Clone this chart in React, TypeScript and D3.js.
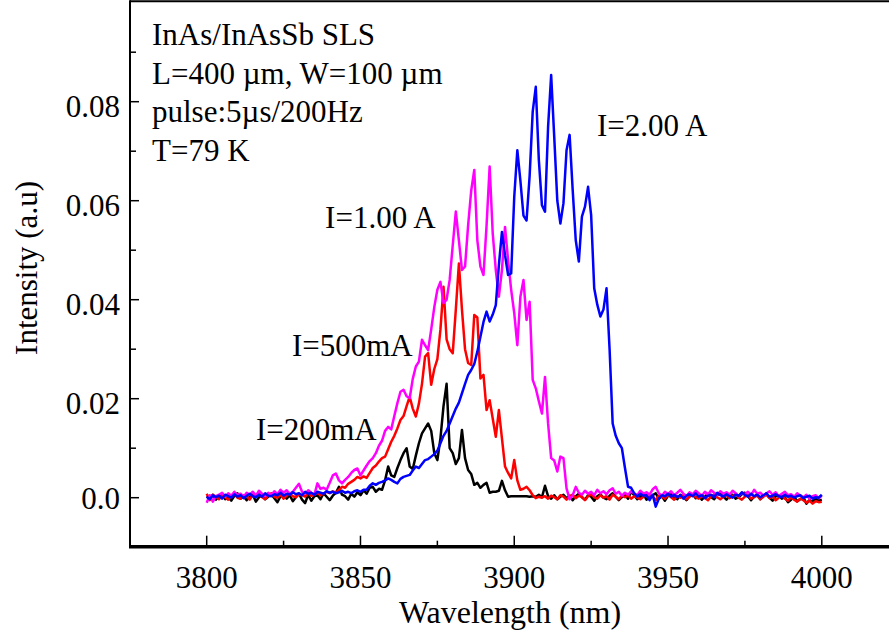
import React from "react";
import * as d3 from "d3";

// wavelength grid (nm), one sample per nm
const wavelengths: number[] = d3.range(3800, 4001, 1);

// intensities in units of 1e-3 a.u.
const i200mA: number[] = [
  0.3, -0.2, 0.6, -0.4, 0.2, 0.8, -0.3, 0.1, -0.6, 0.4,
  0.9, -0.2, 0.3, -0.5, 0.2, 0.6, -0.8, 0.1, 0.5, -0.3,
  0.2, 0.7, -0.1, -0.9, 0.3, 0.4, -0.2, 0.5, -0.7, 0.1,
  0.8, -0.4, -1.1, 0.6, -0.6, 0.3, 0.5, -0.3, 0.9, 0.2,
  -0.5, 0.4, 1.0, 2.2, 0.6, 0.3, -0.4, 0.8, 0.2, 1.1,
  0.5, 1.5, 0.8, 2.0, 2.2, 1.2, 1.8, 1.6, 3.5, 6.3,
  4.5, 4.2, 6.0, 7.6, 9.0, 10.0, 6.3, 5.8, 8.5, 11.0,
  13.0, 14.0, 15.0, 13.5, 9.0, 7.6, 12.0, 18.5, 23.0, 10.0,
  9.0, 6.8, 8.0, 13.7, 8.0, 5.6, 4.8, 2.6, 3.0, 2.0,
  2.6, 3.0, 1.0, 1.2, 1.2, 1.4, 3.4, 1.5, 0.2, 0.3,
  0.3, 0.3, 0.3, 0.3, 0.3, 0.2, 0.3, 0.2, 0.6, 0.1,
  2.4, 0.3, -0.2, 0.5, -0.3, 0.2, 0.6, -0.1, 0.4, -0.5,
  0.3, 0.8, 0.1, -0.4, 0.5, 0.2, -0.6, 0.3, 0.7, 0.0,
  -0.3, 0.4, 0.9, 0.2, -0.5, 0.1, 0.6, -0.2, 1.2, 0.5,
  -0.3, 0.2, 0.7, -0.4, 0.1, 0.5, 0.9, -0.2, 0.3, -0.6,
  0.4, 0.8, 0.0, -0.3, 0.6, 0.2, -0.5, 0.3, 0.7, -0.1,
  0.4, -0.4, 0.2, 0.8, 0.1, -0.3, 0.5, 0.9, 0.2, -0.4,
  0.3, 0.6, -0.2, 0.1, 0.7, 1.0, 0.3, -0.5, 0.2, 0.6,
  -0.3, 0.4, 0.8, 0.0, -0.6, 0.3, 0.5, -0.2, 0.1, -0.9,
  -0.4, 0.2, -0.7, -0.3, 0.1, -1.2, -0.5, -0.8, -0.2, -0.6,
  -0.4,
];

const i500mA: number[] = [
  0.8, -0.5, 0.6, 0.2, -0.3, 0.5, 0.1, -0.4, 0.3, 0.7,
  0.0, -0.2, 0.5, 0.3, -0.4, 0.6, 0.2, 0.8, 0.1, -0.3,
  0.4, 0.9, 0.2, 0.0, 0.6, -0.2, 0.4, 0.8, 0.3, 0.1,
  0.7, 0.5, 0.2, 0.9, 0.4, 0.6, 1.0, 0.5, 0.8, 1.2,
  0.9, 1.3, 1.0, 1.6, 2.2, 2.0, 2.8, 3.2, 3.6, 4.2,
  3.9, 4.3, 4.0, 5.0, 6.0, 6.5, 7.3, 8.0, 8.3, 9.8,
  11.3, 12.5, 14.0, 15.7, 16.5, 18.5, 20.4, 18.0, 16.4, 19.0,
  23.0, 28.5, 29.2, 22.8, 26.0, 28.0, 34.0, 42.6, 32.0, 30.0,
  29.2, 38.0, 47.3, 38.0, 30.0, 27.2, 26.8, 36.9, 36.4, 24.1,
  24.8, 17.7, 19.7, 16.0, 12.3, 17.7, 12.0, 6.3, 5.0, 3.9,
  7.6, 3.5, 1.6, 1.8, 2.2, 1.5, 0.5, -0.1, 0.2, 0.0,
  0.3, -0.2, 0.4, 0.1, -0.3, 0.5, 0.2, -0.4, 0.3, 0.6,
  -0.1, 0.4, 0.2, -0.5, 0.3, 0.7, 0.1, -0.2, 0.5, 0.0,
  0.3, -0.4, 0.6, 0.2, -0.3, 0.4, 0.1, 0.5, -0.2, 0.3,
  0.0, -0.3, 0.2, 0.5, -0.1, 0.3, -0.5, 0.4, 0.2, -0.2,
  0.6, 0.1, -0.4, 0.3, 0.0, 0.5, -0.3, 0.2, 0.7, 0.1,
  -0.2, 0.4, 0.0, -0.5, 0.3, 0.6, 0.1, -0.3, 0.2, 0.5,
  -0.1, 0.3, 0.8, 0.0, -0.4, 0.2, 0.5, -0.2, 0.1, 0.4,
  -0.3, 0.2, 0.6, -0.1, 0.3, -0.5, 0.0, 0.4, -0.2, -0.6,
  0.1, -0.4, -0.8, -0.2, -0.5, -1.0, -0.6, -1.2, -0.7, -0.9,
  -0.8,
];

const i1A: number[] = [
  -1.0, 0.5, -0.8, 0.3, 0.6, 1.0, 0.2, 0.9, 0.4, 1.2,
  0.5, 0.8, 0.2, 1.0, 0.6, 1.2, 0.4, 1.4, 0.8, 0.3,
  1.0, 0.5, 1.3, 0.7, 1.6, 1.0, 1.5, 0.8, 1.2, 2.0,
  2.8, 1.2, 0.8, 1.5, 1.0, 0.6, 2.9, 1.8, 2.0, 1.6,
  3.0, 4.5, 4.9, 3.5, 2.9, 3.6, 4.2, 5.0, 5.6, 5.9,
  4.5, 5.5, 6.5, 7.4, 8.0, 9.0, 10.5, 11.5, 13.5, 14.3,
  13.8, 16.5, 19.1, 21.4, 21.8, 20.5, 20.1, 24.0, 26.5, 27.5,
  31.9, 30.8, 29.8, 34.0, 38.5, 42.0, 43.6, 39.3, 40.0, 44.0,
  51.0, 57.8, 52.0, 46.0, 46.7, 55.0, 62.0, 66.2, 52.0, 46.7,
  45.0, 55.0, 66.9, 53.4, 46.0, 40.6, 46.0, 54.7, 48.0, 42.0,
  37.3, 30.8, 40.6, 44.0, 35.9, 39.6, 23.8, 22.1, 19.5, 17.0,
  24.4, 15.0, 8.0, 7.5, 5.3, 8.3, 8.0, 1.9, -0.3, 0.5,
  2.2, 1.0, 0.6, 1.4, 0.8, 1.2, 0.5, 1.6, 0.9, 1.3,
  0.7, 1.5, 1.9, 0.8, 1.2, 0.4, 1.0, 0.6, 1.3, 0.9,
  0.5, 1.4, 0.8, 1.1, 0.6, 1.7, 2.2, 0.9, 0.4, 1.2,
  0.7, 1.3, 0.5, 1.0, 1.6, 0.8, 0.3, 1.1, 0.7, 1.4,
  0.9, 0.4, 1.2, 0.6, 1.5, 1.0, 0.5, 1.3, 0.8, 1.1,
  0.6, 1.4, 0.9, 0.3, 1.0, 0.7, 1.2, 0.5, 1.6, 0.8,
  1.0, 0.4, 0.9, 1.3, 0.6, 1.1, 0.3, 0.8, 1.2, 0.5,
  0.7, 0.2, 0.9, 0.4, 0.1, 0.6, -0.2, 0.3, 0.5, -0.1,
  0.4,
];

const i2A: number[] = [
  0.2, -0.3, 0.5, 0.1, 0.4, -0.2, 0.6, 0.3, 0.0, 0.7,
  0.2, 0.5, -0.1, 0.4, 0.8, 0.3, 0.1, 0.6, 0.2, 0.9,
  0.4, 0.3, 0.7, 0.5, 1.0, 0.4, 0.8, 0.6, 1.1, 0.7,
  0.9, 0.5, 1.2, 0.8, 1.0, 0.6, 1.2, 1.0, 0.8, 1.3,
  1.0, 1.2, 0.9, 1.1, 1.4, 1.0, 1.2, 0.9, 1.3, 1.5,
  1.2, 1.6, 1.6, 2.4, 2.9, 2.6, 3.0, 3.2, 3.5, 3.9,
  3.6, 3.2, 2.9, 3.8, 4.2, 4.4, 4.6, 5.5, 6.3, 6.0,
  6.8, 7.6, 7.8, 8.3, 8.8, 9.5, 11.0, 12.5, 13.5, 15.0,
  16.5, 18.0, 19.2, 21.1, 23.0, 24.8, 25.8, 27.0, 29.5, 32.5,
  35.5, 37.6, 35.6, 37.0, 38.9, 47.0, 53.7, 49.0, 45.0, 45.3,
  60.8, 70.2, 64.0, 57.0, 56.0, 65.0, 78.0, 83.0, 68.2, 59.1,
  57.8, 74.9, 85.4, 72.9, 60.0, 55.4, 59.5, 70.2, 73.3, 62.2,
  52.0, 47.7, 56.8, 58.8, 62.8, 57.1, 42.3, 39.0, 36.6, 38.0,
  42.3, 30.0, 15.0, 12.5, 11.0, 10.0, 6.0, 2.2, 2.0, 0.9,
  0.2, 0.8, 0.4, 0.5, -0.5, 0.6, -1.8, -0.2, 0.5, 0.3,
  0.8, 0.2, 0.6, 0.1, 0.5, -0.2, 0.4, 0.7, 0.3, 0.9,
  0.2, 0.5, -0.1, 0.4, 0.6, 0.1, 1.0, 0.5, 0.2, 0.7,
  0.3, 0.0, 0.6, 0.4, 1.1, 0.5, 0.2, 0.8, 0.3, 0.6,
  0.1, 0.5, 0.9, 0.2, 0.4, 0.7, 0.3, 0.1, 0.6, 0.2,
  0.4, 0.0, 0.3, 0.5, -0.1, 0.2, 0.4, -0.2, 0.1, 0.0,
  0.6,
];

const seriesValues = [i200mA, i500mA, i1A, i2A];
const seriesColors = ["#000000", "#ff0000", "#ff00ff", "#0000ff"];
const seriesLabels = ["I=200mA", "I=500mA", "I=1.00 A", "I=2.00 A"];
// label anchor points (wavelength nm, intensity 1e-3 a.u.)
const labelWavelengths = [3816.0, 3827.7, 3838.5, 3926.9];
const labelIntensities = [11.7, 28.6, 54.5, 73.1];

const yMajorTicks = [0, 20, 40, 60, 80];
const yTickLabels = ["0.0", "0.02", "0.04", "0.06", "0.08"];
const yMinorTicks = [10, 30, 50, 70, 90];
const xMajorTicks = [3800, 3850, 3900, 3950, 4000];
const xTickLabels = ["3800", "3850", "3900", "3950", "4000"];
const xMinorTicks = [3825, 3875, 3925, 3975];

const infoLines = [
  "InAs/InAsSb SLS",
  "L=400 \u00b5m, W=100 \u00b5m",
  "pulse:5\u00b5s/200Hz",
  "T=79 K",
];

const W = 889;
const H = 638;
const FONT = "'Liberation Serif', 'Times New Roman', serif";

export default function App() {
  const x = d3.scaleLinear().domain([3800, 4000]).range([206.7, 821.8]);
  const y = d3.scaleLinear().domain([0, 80]).range([497.7, 101.7]);
  const left = 130;
  const top = y(100.3);
  const bottom = y(-9.9);
  const right = W;

  const line = d3
    .line<number>()
    .x((_, i) => x(wavelengths[i]))
    .y((d) => y(d));

  return (
    <div>
      <style>{`body{margin:0;background:#fff}`}</style>
      <svg width={W} height={H} style={{ display: "block", fontFamily: FONT }}>
        <rect width={W} height={H} fill="#fff" />
        {/* series */}
        {seriesValues.map((vals, k) => (
          <path
            key={k}
            d={line(vals) || ""}
            fill="none"
            stroke={seriesColors[k]}
            strokeWidth={2.5}
            strokeLinejoin="round"
          />
        ))}
        {/* frame */}
        <line x1={left} x2={right} y1={top} y2={top} stroke="#000" strokeWidth={2} />
        <line x1={left} x2={left} y1={top - 1} y2={bottom} stroke="#000" strokeWidth={2} />
        <line x1={left - 1} x2={right} y1={bottom} y2={bottom} stroke="#000" strokeWidth={3.5} />
        {/* y ticks */}
        {yMajorTicks.map((v) => (
          <line key={"ym" + v} x1={left} x2={left + 9} y1={y(v)} y2={y(v)} stroke="#000" strokeWidth={1.5} />
        ))}
        {yMinorTicks.map((v) => (
          <line key={"yn" + v} x1={left} x2={left + 6} y1={y(v)} y2={y(v)} stroke="#000" strokeWidth={1.5} />
        ))}
        {yMajorTicks.map((v, i) => (
          <text
            key={"yl" + v}
            x={left - 10}
            y={y(v) + (v === 0 ? 1 : 5)}
            textAnchor="end"
            dominantBaseline="central"
            fontSize={31}
          >
            {yTickLabels[i]}
          </text>
        ))}
        {/* x ticks */}
        {xMajorTicks.map((v) => (
          <line key={"xm" + v} x1={x(v)} x2={x(v)} y1={bottom} y2={bottom - 11} stroke="#000" strokeWidth={1.5} />
        ))}
        {xMinorTicks.map((v) => (
          <line key={"xn" + v} x1={x(v)} x2={x(v)} y1={bottom} y2={bottom - 6} stroke="#000" strokeWidth={1.5} />
        ))}
        {xMajorTicks.map((v, i) => (
          <text key={"xl" + v} x={x(v)} y={588} textAnchor="middle" fontSize={31}>
            {xTickLabels[i]}
          </text>
        ))}
        {/* axis titles */}
        <text x={510} y={623} textAnchor="middle" fontSize={32}>
          Wavelength (nm)
        </text>
        <text
          transform={`translate(37,${268}) rotate(-90)`}
          textAnchor="middle"
          fontSize={31}
        >
          Intensity (a.u)
        </text>
        {/* info block */}
        {infoLines.map((t, i) => (
          <text key={t} x={152} y={45 + i * 38.5} fontSize={31}>
            {t}
          </text>
        ))}
        {/* series labels */}
        {seriesLabels.map((t, k) => (
          <text key={t} x={x(labelWavelengths[k])} y={y(labelIntensities[k])} fontSize={31}>
            {t}
          </text>
        ))}
      </svg>
    </div>
  );
}
